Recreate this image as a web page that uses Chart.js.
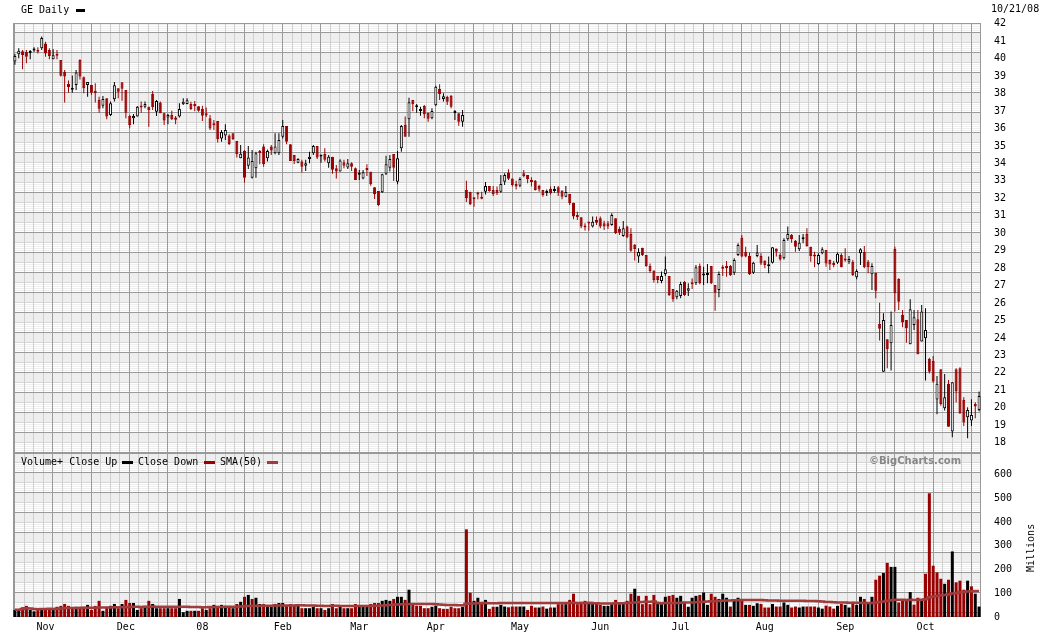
<!DOCTYPE html>
<html>
<head>
<meta charset="utf-8">
<title>GE Daily</title>
<script src="https://cdn.jsdelivr.net/npm/chart.js@4.4.1/dist/chart.umd.min.js"></script>
<style>
  html, body { margin: 0; padding: 0; background: #ffffff; }
  #wrap { position: relative; width: 1045px; height: 635px; overflow: hidden;
          font: 10px 'DejaVu Sans Mono', monospace; color: #000; }
  canvas { position: absolute; left: 0; }
  #priceChart { top: 0; }
  #volChart { top: 453px; }
  .txt { position: absolute; white-space: pre; line-height: 12px; }
  .key { position: absolute; height: 3px; }
</style>
</head>
<body>
<div id="wrap">
  <canvas id="priceChart" width="1045" height="453"></canvas>
  <canvas id="volChart" width="1045" height="182"></canvas>
  <div class="txt" style="left:21px;top:4px">GE Daily</div>
  <div class="key" style="left:76px;top:9px;width:9px;background:#000"></div>
  <div class="txt" style="left:991px;top:3px">10/21/08</div>
  <div class="txt" style="left:21px;top:456px">Volume+ Close Up</div>
  <div class="key" style="left:122px;top:461px;width:11px;background:#000"></div>
  <div class="txt" style="left:138px;top:456px">Close Down</div>
  <div class="key" style="left:204px;top:461px;width:11px;background:#990000"></div>
  <div class="txt" style="left:220px;top:456px">SMA(50)</div>
  <div class="key" style="left:267px;top:461px;width:11px;background:#a03c3c"></div>
  <div class="txt" style="left:869px;top:455px;font:bold 10px 'DejaVu Sans',sans-serif;color:#888">©BigCharts.com</div>
  <div class="txt" style="left:1007px;top:542px;transform:rotate(-90deg);transform-origin:24px 6px">Millions</div>
</div>
<script>
// trading calendar, 10/22/07 .. 10/21/08
const HOLIDAYS = ['2007-11-22', '2007-12-25', '2008-01-01', '2008-01-21', '2008-02-18',
  '2008-03-21', '2008-05-26', '2008-07-04', '2008-09-01'];
const MONTH_TICKS = { '2007-11': 'Nov', '2007-12': 'Dec', '2008-01': '08', '2008-02': 'Feb',
  '2008-03': 'Mar', '2008-04': 'Apr', '2008-05': 'May', '2008-06': 'Jun', '2008-07': 'Jul',
  '2008-08': 'Aug', '2008-09': 'Sep', '2008-10': 'Oct' };
const PRICE_TICKS = [18, 19, 20, 21, 22, 23, 24, 25, 26, 27, 28, 29, 30,
  31, 32, 33, 34, 35, 36, 37, 38, 39, 40, 41, 42];
const VOLUME_TICKS = [0, 100, 200, 300, 400, 500, 600];   // millions

const open = [
  39.83, 40.25, 40.42, 40.38, 40.32, 40.47, 40.49, 40.59, 40.87, 40.49,
  39.96, 40.25, 39.92, 39.25, 38.55, 38.22, 38.49, 39.92, 38.93, 38.49,
  38.49, 38.16, 37.63, 37.30, 37.73, 36.77, 37.67, 38.30, 38.64, 38.20,
  36.71, 36.58, 36.68, 37.25, 37.25, 37.25, 37.97, 36.96, 37.48, 36.87,
  36.62, 36.77, 36.62, 36.68, 37.38, 37.40, 37.40, 37.32, 37.27, 37.11,
  36.83, 36.58, 36.22, 36.43, 35.42, 35.60, 35.59, 35.72, 35.28, 34.29,
  34.71, 33.87, 33.18, 33.72, 34.71, 34.96, 34.29, 34.96, 34.58, 34.58,
  35.53, 36.14, 35.09, 34.48, 34.04, 34.10, 33.87, 34.25, 34.58, 34.99,
  34.40, 34.54, 34.00, 34.36, 33.72, 33.53, 34.06, 33.76, 34.00, 33.72,
  33.35, 33.14, 33.72, 33.52, 32.63, 32.42, 32.34, 33.41, 33.75, 34.54,
  32.95, 34.86, 36.20, 36.52, 37.63, 37.21, 37.00, 37.29, 36.90, 36.58,
  37.33, 38.26, 37.69, 37.80, 37.88, 36.88, 36.87, 36.39, 32.48, 32.38,
  32.04, 32.32, 32.09, 32.38, 32.71, 32.48, 32.48, 32.38, 32.95, 33.47,
  33.14, 32.82, 32.72, 33.43, 33.33, 33.05, 33.01, 32.71, 32.48, 32.30,
  32.53, 32.42, 32.63, 32.44, 32.09, 32.25, 31.75, 31.04, 30.91, 30.43,
  30.58, 30.38, 30.76, 30.85, 30.57, 30.57, 30.47, 30.85, 30.24, 29.84,
  30.38, 29.96, 29.34, 28.66, 29.17, 28.75, 28.12, 27.86, 27.55, 27.26,
  27.66, 27.55, 26.80, 26.33, 26.40, 27.22, 26.71, 27.13, 27.13, 28.12,
  27.58, 27.60, 28.12, 27.03, 26.75, 28.05, 28.12, 28.12, 27.74, 28.75,
  29.74, 28.94, 28.70, 27.74, 28.70, 28.70, 28.43, 28.10, 28.31, 29.13,
  28.75, 28.56, 29.65, 29.90, 29.57, 29.08, 29.65, 29.95, 29.23, 28.70,
  28.24, 28.85, 29.04, 28.46, 28.28, 28.31, 28.75, 28.50, 28.37, 28.37,
  27.47, 28.85, 28.94, 28.37, 27.65, 27.74, 24.80, 22.07, 23.92, 23.69,
  29.10, 27.38, 25.32, 25.03, 23.64, 24.74, 25.07, 23.79, 23.98, 22.80,
  22.68, 20.48, 22.20, 19.97, 21.37, 18.64, 22.20, 22.26, 20.45, 19.46,
  19.27, 20.22, 19.88];

const high = [
  40.26, 40.59, 40.49, 40.49, 40.49, 40.65, 40.65, 41.26, 40.97, 40.59,
  40.53, 40.49, 39.92, 39.35, 38.74, 39.04, 39.35, 39.96, 38.97, 38.66,
  38.49, 38.59, 37.82, 37.86, 37.73, 37.54, 38.66, 38.30, 38.64, 38.20,
  36.77, 36.83, 37.29, 37.54, 37.54, 37.25, 38.14, 37.63, 37.54, 36.90,
  36.83, 37.02, 36.71, 37.44, 37.73, 37.73, 37.53, 37.57, 37.27, 37.30,
  37.20, 36.77, 36.48, 36.43, 35.91, 36.24, 35.67, 35.72, 35.28, 35.05,
  34.77, 35.00, 34.77, 34.67, 34.77, 35.09, 34.80, 35.05, 35.72, 35.72,
  36.48, 36.14, 35.09, 34.48, 34.29, 34.20, 34.20, 34.67, 35.05, 34.99,
  34.48, 34.86, 34.48, 34.38, 33.90, 34.23, 34.20, 34.25, 34.06, 33.76,
  33.62, 33.62, 33.95, 33.52, 32.63, 32.42, 33.41, 34.44, 34.48, 34.54,
  34.71, 36.20, 36.68, 37.76, 37.63, 37.40, 37.25, 37.34, 36.90, 37.15,
  38.45, 38.53, 38.01, 37.88, 37.92, 37.06, 36.87, 37.06, 33.00, 32.38,
  32.04, 32.38, 32.38, 32.93, 32.71, 32.71, 32.67, 33.33, 33.43, 33.66,
  33.14, 33.01, 33.20, 33.62, 33.33, 33.20, 33.05, 32.77, 32.48, 32.51,
  32.67, 32.71, 32.71, 32.44, 32.71, 32.25, 31.75, 31.23, 30.91, 30.57,
  30.60, 30.95, 30.95, 30.95, 30.72, 30.70, 31.14, 30.85, 30.38, 30.70,
  30.42, 30.28, 29.38, 29.14, 29.17, 28.75, 28.27, 27.86, 27.55, 27.80,
  28.66, 27.55, 26.80, 26.75, 27.22, 27.26, 27.13, 27.41, 28.18, 28.27,
  28.08, 28.24, 28.12, 27.03, 27.80, 28.18, 28.41, 28.18, 28.56, 29.42,
  29.90, 29.23, 28.89, 28.37, 29.32, 28.85, 28.43, 28.66, 29.19, 29.13,
  28.85, 29.71, 30.38, 29.95, 29.61, 29.90, 29.95, 30.28, 29.23, 28.94,
  28.85, 29.19, 29.04, 28.50, 28.41, 28.89, 28.85, 29.14, 28.70, 28.47,
  27.93, 29.14, 29.27, 28.47, 28.28, 27.74, 26.02, 25.41, 23.92, 25.51,
  29.23, 27.42, 25.60, 25.03, 26.21, 25.60, 25.60, 25.89, 25.70, 22.87,
  22.97, 21.82, 22.20, 21.94, 21.59, 21.46, 22.26, 22.32, 20.60, 20.03,
  20.49, 20.31, 20.93];

const low = [
  39.65, 40.02, 39.39, 39.73, 39.96, 40.38, 40.30, 40.49, 40.11, 39.96,
  39.96, 39.96, 38.97, 37.48, 38.05, 38.05, 38.20, 38.81, 38.01, 37.82,
  37.92, 37.48, 36.90, 37.15, 36.52, 36.71, 37.54, 37.73, 37.59, 36.58,
  36.01, 36.24, 36.68, 36.90, 37.15, 36.10, 37.06, 36.71, 36.87, 36.20,
  36.24, 36.49, 36.24, 36.62, 37.34, 37.38, 37.06, 36.98, 36.96, 36.43,
  36.65, 35.91, 35.91, 35.20, 35.24, 35.34, 35.05, 35.34, 34.33, 34.29,
  32.90, 33.68, 33.14, 33.18, 33.95, 33.81, 34.10, 34.48, 34.52, 34.48,
  35.43, 35.09, 34.14, 33.97, 34.00, 33.47, 33.56, 34.00, 34.48, 34.25,
  34.04, 34.10, 33.75, 33.41, 33.14, 33.53, 33.72, 33.68, 33.56, 33.05,
  33.05, 33.09, 33.28, 32.72, 31.96, 31.56, 32.30, 33.33, 33.53, 32.99,
  32.80, 34.67, 35.53, 35.53, 36.98, 36.90, 36.73, 36.58, 36.39, 36.52,
  37.29, 37.63, 37.54, 37.34, 37.15, 36.48, 36.16, 36.10, 31.78, 31.60,
  31.52, 31.94, 31.94, 32.21, 32.38, 32.13, 32.19, 32.32, 32.76, 33.05,
  32.67, 32.51, 32.63, 33.20, 32.86, 32.67, 32.44, 32.38, 32.09, 32.13,
  32.21, 32.32, 32.13, 31.94, 32.06, 31.62, 30.80, 30.76, 30.28, 30.15,
  30.15, 30.32, 30.47, 30.28, 30.19, 30.24, 30.43, 29.96, 29.90, 29.80,
  29.71, 28.94, 28.43, 28.31, 28.70, 28.08, 27.74, 27.17, 27.13, 27.13,
  27.55, 26.40, 26.08, 26.21, 26.27, 26.40, 26.40, 26.80, 27.03, 27.07,
  27.03, 27.13, 27.09, 25.56, 26.33, 27.55, 27.51, 27.55, 27.61, 28.70,
  28.62, 28.62, 27.61, 27.66, 28.62, 28.18, 27.99, 27.70, 28.27, 28.66,
  28.43, 28.50, 29.57, 29.46, 28.94, 28.98, 29.42, 29.23, 28.37, 28.05,
  28.18, 28.79, 28.08, 27.89, 28.05, 28.24, 28.05, 28.37, 28.24, 27.55,
  27.36, 28.18, 27.99, 27.70, 26.75, 26.27, 23.85, 22.07, 22.26, 22.13,
  25.51, 25.60, 24.61, 23.73, 23.64, 24.46, 23.06, 23.79, 21.56, 21.97,
  21.44, 19.63, 20.12, 19.84, 18.92, 18.31, 20.30, 19.65, 18.96, 18.25,
  18.96, 19.40, 19.78];

const close = [
  40.15, 40.45, 40.21, 40.11, 40.38, 40.50, 40.40, 41.18, 40.30, 40.15,
  40.19, 40.17, 39.02, 38.97, 38.36, 38.24, 39.20, 38.97, 38.30, 38.66,
  38.05, 38.01, 37.13, 37.69, 36.68, 37.44, 38.47, 38.10, 38.28, 36.90,
  36.20, 36.71, 37.25, 37.20, 37.40, 37.06, 37.21, 37.57, 36.87, 36.45,
  36.77, 36.52, 36.50, 37.11, 37.53, 37.61, 37.11, 37.28, 37.02, 36.73,
  36.76, 36.00, 36.18, 35.38, 35.80, 35.91, 35.11, 35.40, 34.52, 34.55,
  33.18, 34.33, 34.14, 34.58, 34.60, 33.97, 34.71, 34.73, 34.96, 35.34,
  36.14, 35.24, 34.14, 34.12, 34.25, 33.81, 34.00, 34.38, 34.99, 34.33,
  34.42, 34.20, 34.38, 33.64, 33.53, 34.16, 33.87, 34.00, 33.81, 33.05,
  33.37, 33.49, 33.62, 32.80, 32.23, 31.62, 33.37, 33.95, 34.25, 33.75,
  34.29, 36.14, 35.53, 37.50, 37.38, 37.23, 37.11, 36.81, 36.56, 37.00,
  38.39, 37.97, 37.84, 37.53, 37.25, 36.90, 36.39, 36.77, 32.00, 31.67,
  31.94, 32.21, 31.98, 32.71, 32.42, 32.23, 32.29, 32.82, 33.33, 33.12,
  32.76, 32.67, 33.10, 33.28, 33.11, 32.93, 32.48, 32.51, 32.19, 32.32,
  32.29, 32.44, 32.32, 32.09, 32.36, 31.71, 30.95, 30.93, 30.38, 30.32,
  30.56, 30.66, 30.60, 30.38, 30.38, 30.38, 31.04, 29.99, 30.03, 30.28,
  29.77, 29.00, 29.10, 28.92, 28.75, 28.12, 27.84, 27.32, 27.32, 27.55,
  27.93, 26.46, 26.21, 26.71, 27.09, 26.46, 26.84, 27.07, 28.05, 27.13,
  27.62, 27.70, 27.13, 26.59, 27.66, 27.97, 27.99, 27.61, 28.46, 29.32,
  28.66, 28.66, 27.65, 28.31, 28.90, 28.27, 28.18, 28.14, 29.19, 28.94,
  28.50, 29.61, 29.95, 29.67, 29.23, 29.46, 29.76, 29.27, 28.70, 28.66,
  28.75, 29.08, 28.27, 28.20, 28.18, 28.83, 28.05, 28.43, 28.52, 27.61,
  27.84, 29.08, 28.05, 28.05, 28.12, 26.71, 24.52, 25.03, 23.35, 24.74,
  26.56, 26.08, 24.88, 24.55, 25.64, 25.18, 23.06, 25.51, 24.46, 22.07,
  21.50, 21.37, 20.22, 20.60, 18.92, 21.46, 20.93, 19.68, 19.15, 19.88,
  19.59, 20.07, 20.68];

// millions of shares
const volume = [
  30, 30, 41, 47, 30, 24, 30, 37, 37, 37,
  30, 43, 47, 55, 47, 37, 43, 43, 43, 51,
  30, 47, 68, 26, 43, 47, 55, 37, 55, 72,
  59, 59, 30, 37, 47, 68, 55, 37, 37, 37,
  37, 37, 37, 76, 20, 26, 26, 26, 26, 37,
  30, 37, 51, 47, 51, 47, 47, 37, 55, 64,
  85, 93, 76, 81, 55, 55, 43, 43, 55, 59,
  59, 47, 55, 51, 55, 37, 37, 37, 43, 37,
  37, 30, 37, 55, 37, 43, 37, 37, 37, 55,
  43, 43, 43, 55, 59, 59, 68, 72, 68, 76,
  85, 85, 72, 115, 55, 47, 47, 37, 37, 43,
  47, 37, 34, 34, 43, 37, 37, 43, 369, 102,
  68, 81, 64, 72, 34, 43, 43, 51, 44, 41,
  44, 44, 44, 44, 30, 47, 40, 40, 44, 35,
  40, 40, 54, 54, 54, 72, 98, 54, 64, 68,
  64, 64, 58, 51, 47, 47, 58, 72, 54, 58,
  68, 98, 119, 89, 54, 89, 54, 93, 64, 54,
  85, 89, 93, 81, 89, 64, 43, 81, 89, 93,
  103, 51, 98, 85, 76, 98, 81, 44, 72, 81,
  68, 51, 51, 47, 58, 55, 40, 40, 55, 44,
  44, 61, 51, 40, 44, 40, 44, 44, 44, 44,
  40, 35, 48, 44, 35, 47, 55, 51, 40, 64,
  51, 85, 76, 58, 85, 157, 174, 185, 228, 211,
  211, 61, 69, 69, 105, 52, 81, 76, 182, 521,
  216, 188, 161, 140, 157, 276, 146, 153, 115, 153,
  129, 98, 44];

function tradingDays(from, to) {
  const days = [];
  const end = Date.parse(to + 'T00:00:00Z');
  for (let t = Date.parse(from + 'T00:00:00Z'); t <= end; t += 864e5) {
    const d = new Date(t);
    const iso = d.toISOString().slice(0, 10);
    const wd = d.getUTCDay();
    if (wd !== 0 && wd !== 6 && !HOLIDAYS.includes(iso)) days.push(iso);
  }
  return days;
}
const dates = tradingDays('2007-10-22', '2008-10-21');

function monthLabel(i) {
  if (i === 0) return '';
  const ym = dates[i].slice(0, 7);
  return dates[i - 1].slice(0, 7) === ym ? '' : (MONTH_TICKS[ym] || '');
}

// 50 day average of volume (partial window at the start)
const sma50 = volume.map((_, i) => {
  const w = volume.slice(Math.max(0, i - 49), i + 1);
  return w.reduce((a, b) => a + b, 0) / w.length;
});

const UP = '#000000';
const DOWN = '#990000';
const SMA_COLOR = '#a03c3c';
const FONT = { family: "'DejaVu Sans Mono', monospace", size: 10 };
const AXIS_W = 64;

const candleUp = close.map((c, i) => c >= open[i]);
const volumeUp = close.map((c, i) => i === 0 || c >= close[i - 1]);

// BigCharts style background: grey field, hatched half rows, two grades of lines
function drawGrid(chart, offsetY) {
  const { ctx, chartArea: a } = chart;
  const w = a.right - a.left;
  ctx.save();
  ctx.beginPath();
  ctx.rect(a.left, a.top, w, a.bottom - a.top);
  ctx.clip();
  ctx.fillStyle = '#eeeeee';
  ctx.fillRect(a.left, a.top, w, a.bottom - a.top);
  for (let y = 12; y < 640; y += 20) {
    const yy = y - offsetY;
    ctx.fillStyle = '#ffffff';
    for (let s = 11; s < 20; s += 2) ctx.fillRect(a.left, yy + s, w, 1);
    ctx.fillStyle = '#d6d6d6';
    ctx.fillRect(a.left, yy + 10, w, 1);
  }
  for (let k = 0; 14 + k * 9.57 < a.right; k++) {
    const x = Math.round(14 + k * 9.57);
    ctx.fillStyle = k % 4 === 0 ? '#9a9a9a' : '#cfcfcf';
    ctx.fillRect(x, a.top, 1, a.bottom - a.top);
  }
  ctx.fillStyle = '#9a9a9a';
  for (let y = 12; y < 640; y += 20) ctx.fillRect(a.left, y - offsetY, w, 1);
  ctx.strokeStyle = '#999999';
  ctx.lineWidth = 1;
  ctx.strokeRect(a.left + 0.5, a.top + 0.5, w - 1, a.bottom - a.top - 1);
  ctx.restore();
}

const gridPlugin = {
  id: 'bigGrid',
  beforeDatasetsDraw(chart, args, opts) { drawGrid(chart, opts.offsetY || 0); }
};

function xAxis(show) {
  return {
    type: 'category',
    offset: true,
    display: show,
    grid: { display: false, drawTicks: false },
    border: { display: false },
    ticks: { autoSkip: false, maxRotation: 0, minRotation: 0, padding: 4, color: '#000', font: FONT,
      callback: (v, i) => monthLabel(i) },
    afterFit: s => { s.height = show ? 18 : 0; s.paddingLeft = 0; s.paddingRight = 0; }
  };
}

function yAxis(min, max, tickValues) {
  return {
    type: 'linear',
    position: 'right',
    min, max,
    grid: { display: false, drawTicks: false },
    border: { display: false },
    afterBuildTicks: s => { s.ticks = tickValues.map(v => ({ value: v })); },
    ticks: { autoSkip: false, padding: 13, color: '#000', font: FONT, callback: v => String(v) },
    afterFit: s => { s.width = AXIS_W; s.paddingTop = 0; s.paddingBottom = 0; }
  };
}

const common = {
  responsive: false,
  animation: false,
  events: [],
  plugins: { legend: { display: false }, tooltip: { enabled: false } }
};

new Chart(document.getElementById('priceChart'), {
  type: 'bar',
  data: {
    labels: dates,
    datasets: [
      {
        data: open.map((o, i) => [Math.min(o, close[i]), Math.max(o, close[i])]),
        backgroundColor: candleUp.map(u => u ? '#ffffff' : DOWN),
        borderColor: candleUp.map(u => u ? UP : DOWN),
        borderWidth: 1,
        borderSkipped: false,
        barThickness: 3,
        minBarLength: 2,
        inflateAmount: 0,
        grouped: false,
        order: 0
      },
      {
        data: low.map((l, i) => [l, high[i]]),
        backgroundColor: candleUp.map(u => u ? UP : DOWN),
        barThickness: 1,
        inflateAmount: 0,
        grouped: false,
        order: 1
      }
    ]
  },
  options: {
    ...common,
    layout: { autoPadding: false, padding: { left: 13, top: 23, right: 0, bottom: 0 } },
    scales: { x: xAxis(false), y: yAxis(17.41, 42.04, PRICE_TICKS) },
    plugins: { ...common.plugins, bigGrid: { offsetY: 0 } }
  },
  plugins: [gridPlugin]
});

new Chart(document.getElementById('volChart'), {
  type: 'bar',
  data: {
    labels: dates,
    datasets: [
      {
        type: 'line',
        data: sma50,
        borderColor: SMA_COLOR,
        borderWidth: 2.5,
        pointRadius: 0,
        stepped: 'middle',
        order: 0
      },
      {
        data: volume,
        backgroundColor: volumeUp.map(u => u ? UP : DOWN),
        barThickness: 3,
        inflateAmount: 0,
        order: 1
      }
    ]
  },
  options: {
    ...common,
    layout: { autoPadding: false, padding: { left: 13, top: 0, right: 0, bottom: 0 } },
    scales: { x: xAxis(true), y: yAxis(0, 690.5, VOLUME_TICKS) },
    plugins: { ...common.plugins, bigGrid: { offsetY: 453 } }
  },
  plugins: [gridPlugin]
});
</script>
</body>
</html>
